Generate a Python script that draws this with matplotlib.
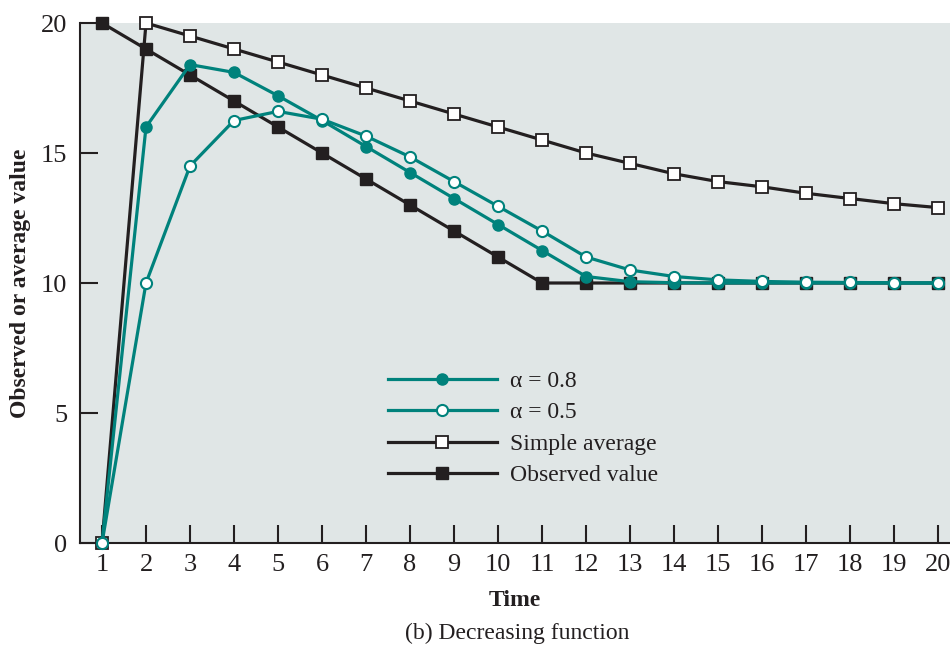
import matplotlib
matplotlib.use('Agg')
import matplotlib.pyplot as plt

plt.rcParams['font.family'] = ['Liberation Serif', 'DejaVu Serif']

# time periods
time = list(range(1, 21))

# series values
observed = [20, 19, 18, 17, 16, 15, 14, 13, 12, 11, 10, 10, 10, 10, 10, 10, 10, 10, 10, 10]
simple_avg = [0, 20, 19.5, 19, 18.5, 18, 17.5, 17, 16.5, 16, 15.5, 15, 14.6, 14.2, 13.9,
              13.7, 13.45, 13.25, 13.05, 12.9]
alpha_08 = [0, 16, 18.4, 18.1, 17.2, 16.25, 15.25, 14.25, 13.25, 12.25, 11.25, 10.25,
            10.05, 10.01, 10, 10, 10, 10, 10, 10]
alpha_05 = [0, 10, 14.5, 16.25, 16.6, 16.3, 15.65, 14.85, 13.9, 12.95, 12, 11, 10.5,
            10.25, 10.12, 10.06, 10.03, 10.02, 10.01, 10]

labels = ['\u03b1 = 0.8', '\u03b1 = 0.5', 'Simple average', 'Observed value']

teal = '#00827c'
dark = '#231f20'
bg = '#e0e6e6'

fig = plt.figure(figsize=(9.5, 6.45), dpi=100)
ax = fig.add_axes([80 / 950, 102 / 645, 870 / 950, 520 / 645])
ax.set_facecolor(bg)

lw = 2.3
ms = 8
h_obs, = ax.plot(time, observed, color=dark, lw=lw, marker='s', ms=ms,
                 mfc=dark, mec=dark, clip_on=False, zorder=3)
h_avg, = ax.plot(time, simple_avg, color=dark, lw=lw, marker='s', ms=ms,
                 mfc='white', mec=dark, mew=1.3, clip_on=False, zorder=3)
h_a8, = ax.plot(time, alpha_08, color=teal, lw=lw, marker='o', ms=ms,
                mfc=teal, mec=teal, clip_on=False, zorder=4)
h_a5, = ax.plot(time, alpha_05, color=teal, lw=lw, marker='o', ms=ms,
                mfc='white', mec=teal, mew=1.5, clip_on=False, zorder=4)

ax.set_xlim(0.5, 20.27)
ax.set_ylim(0, 20)
ax.set_xticks(time)
ax.set_yticks([0, 5, 10, 15, 20])

for side in ['top', 'right']:
    ax.spines[side].set_visible(False)
for side in ['left', 'bottom']:
    ax.spines[side].set_color(dark)
    ax.spines[side].set_linewidth(1.5)

ax.tick_params(axis='both', direction='in', length=13, width=1.5, color=dark,
               labelsize=19, labelcolor=dark)
ax.tick_params(axis='x', pad=8)
ax.tick_params(axis='y', pad=9)

ax.set_xlabel('Time', fontsize=17, fontweight='bold', color=dark, labelpad=10)
ax.set_ylabel('Observed or average value', fontsize=17, fontweight='bold',
              color=dark, labelpad=7)

leg = ax.legend([h_a8, h_a5, h_avg, h_obs], labels, loc='upper left',
                bbox_to_anchor=(0.354, 0.332), frameon=False, fontsize=17,
                handlelength=4.6, handletextpad=0.55, labelspacing=0.42,
                borderpad=0, borderaxespad=0, markerscale=1.0)
for t in leg.get_texts():
    t.set_color(dark)

fig.text(517 / 950, 1 - 633 / 645, '(b) Decreasing function', ha='center',
         va='center', fontsize=17, color=dark)

fig.savefig('out.png', dpi=100)
